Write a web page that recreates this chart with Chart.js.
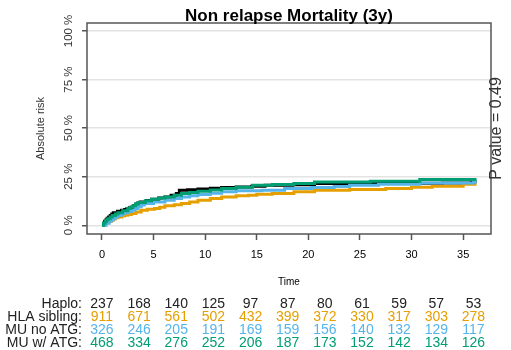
<!DOCTYPE html>
<html>
<head>
<meta charset="utf-8">
<script src="https://cdn.jsdelivr.net/npm/chart.js@4.4.1/dist/chart.umd.min.js"></script>
<style>
  body { margin: 0; background: #fff; }
  #wrap { width: 511px; height: 350px; }
</style>
</head>
<body>
<div id="wrap"><canvas id="nrmChart" width="511" height="350"></canvas></div>
<script>
// Cumulative incidence (step curves): time in months, risk in %
const haploTime = [0, 0.15, 0.25, 0.4, 0.5, 0.65, 0.8, 0.95, 1.1, 1.5, 1.9, 2.2, 2.4, 2.65, 2.9, 3.1, 3.3, 3.5, 3.7, 4.3, 4.8, 5.5, 6.1, 6.7, 7.2, 7.5, 8.3, 9.3, 10.5, 11.6, 13, 14.5, 15.8, 18.5, 20.6, 26, 33, 35.8, 36.3];
const haploRisk = [0, 1, 2, 3, 3.6, 4.3, 5, 5.8, 6.5, 7.2, 7.7, 8.1, 8.5, 9, 9.4, 10.2, 11, 11.5, 12, 12.8, 13.4, 14, 14.6, 15.5, 16.3, 18, 18.3, 18.6, 19, 19.4, 19.7, 20.1, 20.6, 20.9, 21.5, 21.6, 21.8, 22.3, 22.3];

const hlaTime = [0, 0.3, 0.5, 0.7, 0.9, 1.1, 1.3, 1.55, 1.9, 2.2, 2.5, 2.85, 3.3, 3.8, 4.4, 5.1, 5.6, 6.1, 7, 7.7, 8.5, 9.3, 10.5, 11.6, 13, 14.2, 15, 16.5, 18.6, 20.6, 24, 27.5, 30, 32, 35, 36.3];
const hlaRisk = [0, 1, 1.5, 2, 2.6, 3.2, 3.8, 4.3, 4.8, 5.2, 5.6, 6, 6.8, 7.7, 8.2, 8.6, 9.3, 10, 10.6, 11.2, 12, 12.9, 13.8, 14.6, 15.2, 15.5, 16, 16.3, 17.2, 18, 18.4, 18.9, 19.5, 20.1, 21.1, 21.1];

const muNoTime = [0, 0.4, 0.7, 0.9, 1.1, 1.3, 1.55, 1.9, 2.2, 2.5, 2.85, 3.2, 3.5, 3.8, 4.1, 5, 6.1, 7, 7.7, 8.5, 9.3, 10.5, 11.6, 13, 15.5, 17.7, 20.3, 22.5, 24, 26.8, 30.8, 36, 36.3];
const muNoRisk = [0, 1, 2, 2.8, 3.6, 4.4, 5.2, 5.9, 6.5, 7.1, 7.7, 8.6, 9.5, 10.4, 11.2, 12, 12.9, 13.8, 14.6, 15.2, 15.8, 16.5, 17.2, 17.7, 18, 18.9, 19.4, 20, 20.6, 21.1, 21.8, 22.3, 22.3];

const muAtgTime = [0, 0.15, 0.3, 0.45, 0.58, 0.8, 1, 1.3, 1.55, 2, 2.5, 2.75, 3, 3.25, 3.5, 4.2, 4.8, 5.5, 6.1, 7, 7.7, 8.5, 9.3, 10.5, 11.6, 13, 14.6, 16.5, 18.6, 20.6, 26, 30.8, 36.3];
const muAtgRisk = [0, 1, 2, 2.8, 3.4, 4.2, 5, 5.8, 6.5, 7.5, 8.6, 9.3, 10, 10.9, 11.7, 12.6, 13.4, 14, 14.6, 15.5, 16.3, 16.9, 17.5, 18.2, 18.9, 19.6, 20.6, 21, 21.5, 22.3, 22.6, 23.5, 23.5];

// Numbers at risk table
const riskTimes = [0, 3.6, 7.2, 10.8, 14.4, 18, 21.6, 25.2, 28.8, 32.4, 36];
const haploAtRisk = [237, 168, 140, 125, 97, 87, 80, 61, 59, 57, 53];
const hlaAtRisk = [911, 671, 561, 502, 432, 399, 372, 330, 317, 303, 278];
const muNoAtRisk = [326, 246, 205, 191, 169, 159, 156, 140, 132, 129, 117];
const muAtgAtRisk = [468, 334, 276, 252, 206, 187, 173, 152, 142, 134, 126];

const groupNames = ['Haplo:', 'HLA sibling:', 'MU no ATG:', 'MU w/ ATG:'];
const groupColors = ['#000000', '#E69F00', '#56B4E9', '#009E73'];

const xTicks = [0, 5, 10, 15, 20, 25, 30, 35];
const yTicks = [0, 25, 50, 75, 100];

const FONT = "'Liberation Sans', Arial, sans-serif";

function toPoints(ts, vs) {
    return ts.map((t, i) => ({ x: t, y: vs[i] }));
}

function rotText(ctx, text, x, y) {
    ctx.save();
    ctx.translate(x, y);
    ctx.rotate(-Math.PI / 2);
    ctx.fillText(text, 0, 0);
    ctx.restore();
}

// draws box, axis text, title, p value and the at-risk table
const decorations = {
    id: 'decorations',
    afterDraw(chart) {
        const ctx = chart.ctx;
        const area = chart.chartArea;
        const xs = chart.scales.x;
        const ys = chart.scales.y;
        ctx.save();

        ctx.strokeStyle = '#555';
        ctx.lineWidth = 1.5;
        ctx.strokeRect(area.left, area.top, area.right - area.left, area.bottom - area.top);

        const midX = (area.left + area.right) / 2;
        const midY = (area.top + area.bottom) / 2;

        ctx.fillStyle = '#000';
        ctx.textAlign = 'center';
        ctx.textBaseline = 'alphabetic';
        ctx.font = 'bold 17px ' + FONT;
        ctx.fillText('Non relapse Mortality (3y)', midX, 20.5);

        // y tick labels, rotated
        ctx.fillStyle = '#333';
        ctx.font = '11.5px ' + FONT;
        yTicks.forEach(v => rotText(ctx, v + ' %', 72, ys.getPixelForValue(v)));
        ctx.font = '11px ' + FONT;
        rotText(ctx, 'Absolute risk', 43.5, midY);

        // x tick labels
        ctx.fillStyle = '#000';
        ctx.font = '11px ' + FONT;
        xTicks.forEach(v => ctx.fillText(String(v), xs.getPixelForValue(v), 258));
        ctx.font = '10px ' + FONT;
        ctx.fillText('Time', midX, 285);

        ctx.fillStyle = '#333';
        ctx.font = '16px ' + FONT;
        rotText(ctx, 'P value = 0.49', 501, midY);

        // numbers at risk
        const rows = [haploAtRisk, hlaAtRisk, muNoAtRisk, muAtgAtRisk];
        const baselines = [308, 321, 334, 347];
        ctx.font = '14px ' + FONT;
        rows.forEach((row, r) => {
            ctx.textAlign = 'right';
            ctx.fillStyle = '#222';
            ctx.fillText(groupNames[r], 82, baselines[r]);
            ctx.textAlign = 'center';
            ctx.fillStyle = r === 0 ? '#222' : groupColors[r];
            row.forEach((n, i) => ctx.fillText(String(n), xs.getPixelForValue(riskTimes[i]), baselines[r]));
        });

        ctx.restore();
    }
};

function curve(label, ts, vs, color, order) {
    return {
        label: label,
        data: toPoints(ts, vs),
        borderColor: color,
        borderWidth: 3,
        pointRadius: 0,
        stepped: true,
        fill: false,
        order: order
    };
}

const ctx = document.getElementById('nrmChart').getContext('2d');
new Chart(ctx, {
    type: 'line',
    data: {
        datasets: [
            curve('Haplo', haploTime, haploRisk, groupColors[0], 3),
            curve('HLA sibling', hlaTime, hlaRisk, groupColors[1], 2),
            curve('MU no ATG', muNoTime, muNoRisk, groupColors[2], 1),
            curve('MU w/ ATG', muAtgTime, muAtgRisk, groupColors[3], 0)
        ]
    },
    options: {
        responsive: false,
        animation: false,
        layout: { padding: { top: 23, left: 82, right: 20, bottom: 110 } },
        plugins: {
            legend: { display: false },
            tooltip: { enabled: false },
            title: { display: false }
        },
        scales: {
            x: {
                type: 'linear',
                min: -1.45,
                max: 37.7,
                afterBuildTicks: s => { s.ticks = xTicks.map(v => ({ value: v })); },
                ticks: { display: false },
                grid: { drawOnChartArea: false, drawTicks: true, tickLength: 6, tickColor: '#555', tickWidth: 1.5 },
                border: { display: false }
            },
            y: {
                min: -4.5,
                max: 104.1,
                afterBuildTicks: s => { s.ticks = yTicks.map(v => ({ value: v })); },
                ticks: { display: false },
                grid: { color: '#e3e3e3', lineWidth: 1.5, drawTicks: true, tickLength: 5, tickColor: '#555', tickWidth: 1.5 },
                border: { display: false }
            }
        }
    },
    plugins: [decorations]
});
</script>
</body>
</html>
